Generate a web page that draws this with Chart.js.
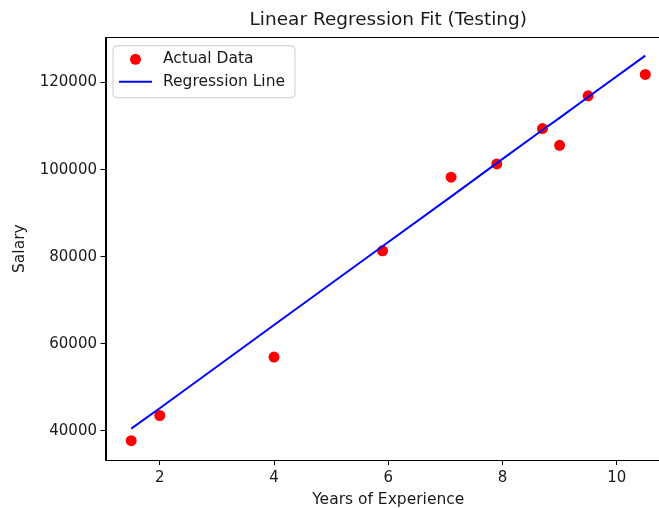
<!DOCTYPE html>
<html>
<head>
<meta charset="utf-8">
<script src="https://cdn.jsdelivr.net/npm/chart.js@4"></script>
<style>
  html, body { margin: 0; padding: 0; background: #fff; overflow: hidden; }
  #wrap { width: 680px; height: 508px; }
</style>
</head>
<body>
<div id="wrap"><canvas id="myChart" width="680" height="508"></canvas></div>
<script>
// ----- DATA -----
const yearsExp = [1.5, 2.0, 4.0, 5.9, 7.1, 7.9, 8.7, 9.0, 9.5, 10.5];
const salaryActual = [37731, 43525, 56957, 81363, 98273, 101302, 109431, 105582, 116969, 121872];
const salaryPredicted = [40500, 45200, 64300, 82400, 93800, 101500, 109100, 111900, 116700, 126200];
const xTicks = [2, 4, 6, 8, 10];
const yTicks = [40000, 60000, 80000, 100000, 120000];

const textColor = '#1a1a1a';
const fontFamily = '"DejaVu Sans", sans-serif';

// legend drawn inside the plot, top left (like matplotlib)
const insideLegend = {
    id: 'insideLegend',
    afterDatasetsDraw(chart) {
        const ctx = chart.ctx;
        const area = chart.chartArea;
        const x0 = area.left + 7.5;
        const y0 = area.top + 8.5;
        const w = 182, h = 52, r = 4;
        ctx.save();
        ctx.beginPath();
        ctx.roundRect(x0, y0, w, h, r);
        ctx.fillStyle = 'rgba(255,255,255,0.8)';
        ctx.fill();
        ctx.strokeStyle = '#cccccc';
        ctx.lineWidth = 1;
        ctx.stroke();

        const scatterSet = chart.data.datasets[1];
        const lineSet = chart.data.datasets[0];

        // scatter entry
        ctx.beginPath();
        ctx.arc(x0 + 22.5, y0 + 13.5, 5.5, 0, Math.PI * 2);
        ctx.fillStyle = scatterSet.backgroundColor;
        ctx.fill();

        // line entry
        ctx.beginPath();
        ctx.moveTo(x0 + 6, y0 + 36);
        ctx.lineTo(x0 + 39, y0 + 36);
        ctx.strokeStyle = lineSet.borderColor;
        ctx.lineWidth = 2;
        ctx.stroke();

        ctx.fillStyle = textColor;
        ctx.font = '15.5px ' + fontFamily;
        ctx.textBaseline = 'middle';
        ctx.textAlign = 'left';
        ctx.fillText(scatterSet.label, x0 + 50, y0 + 13);
        ctx.fillText(lineSet.label, x0 + 50, y0 + 36);
        ctx.restore();
    }
};

// kotak sumbu (spines) atas & kanan
const frameBox = {
    id: 'frameBox',
    afterDraw(chart) {
        const ctx = chart.ctx;
        const a = chart.chartArea;
        ctx.save();
        ctx.strokeStyle = '#000';
        ctx.lineWidth = 1;
        ctx.strokeRect(Math.round(a.left) + 0.5, Math.round(a.top) + 0.5,
            Math.round(a.right - a.left), Math.round(a.bottom - a.top));
        ctx.restore();
    }
};

const ctx = document.getElementById('myChart').getContext('2d');

new Chart(ctx, {
    type: 'scatter',
    data: {
        datasets: [
            {
                type: 'line',
                label: 'Regression Line',
                data: yearsExp.map((x, i) => ({ x: x, y: salaryPredicted[i] })),
                borderColor: '#0000ff',
                backgroundColor: '#0000ff',
                borderWidth: 2,
                pointRadius: 0,
                fill: false,
                tension: 0,
                order: 0
            },
            {
                type: 'scatter',
                label: 'Actual Data',
                data: yearsExp.map((x, i) => ({ x: x, y: salaryActual[i] })),
                backgroundColor: '#ff0000',
                borderColor: '#ff0000',
                borderWidth: 0,
                pointRadius: 5.5,
                order: 1
            }
        ]
    },
    options: {
        responsive: false,
        animation: false,
        devicePixelRatio: 1,
        layout: { padding: { left: 0, right: 9, top: 0, bottom: 0 } },
        plugins: {
            legend: { display: false },
            tooltip: { enabled: false },
            title: {
                display: true,
                text: 'Linear Regression Fit (Testing)',
                fullSize: false,
                color: textColor,
                font: { family: fontFamily, size: 18.5, weight: 'normal' },
                padding: { top: 9, bottom: 6.1 }
            }
        },
        scales: {
            x: {
                type: 'linear',
                min: 1.05,
                max: 10.95,
                afterBuildTicks: (scale) => { scale.ticks = xTicks.map(v => ({ value: v })); },
                afterFit: (scale) => { scale.height = 48; },
                grid: { drawOnChartArea: false, drawTicks: true, tickLength: 5, color: '#000' },
                border: { display: true, color: '#000', width: 1 },
                ticks: { color: textColor, font: { family: fontFamily, size: 15 }, padding: 4, maxRotation: 0 },
                title: {
                    display: true,
                    text: 'Years of Experience',
                    color: textColor,
                    font: { family: fontFamily, size: 15.5, lineHeight: 1 },
                    padding: { top: 0.5, bottom: 0.5 }
                }
            },
            y: {
                type: 'linear',
                min: 33300,
                max: 130400,
                afterBuildTicks: (scale) => { scale.ticks = yTicks.map(v => ({ value: v })); },
                afterFit: (scale) => { scale.width = 105.5; },
                grid: { drawOnChartArea: false, drawTicks: true, tickLength: 5, color: '#000' },
                border: { display: true, color: '#000', width: 1 },
                ticks: {
                    color: textColor,
                    font: { family: fontFamily, size: 15 },
                    padding: 3.5,
                    callback: (v) => String(v)
                },
                title: {
                    display: true,
                    text: 'Salary',
                    color: textColor,
                    font: { family: fontFamily, size: 15.5, lineHeight: 1 },
                    padding: { top: 12, bottom: 0 }
                }
            }
        }
    },
    plugins: [insideLegend, frameBox]
});
</script>
</body>
</html>
